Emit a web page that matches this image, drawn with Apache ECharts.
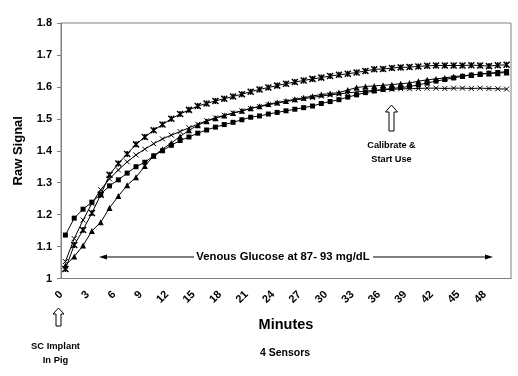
<!DOCTYPE html>
<html>
<head>
<meta charset="utf-8">
<script src="https://cdn.jsdelivr.net/npm/echarts@6/dist/echarts.min.js"></script>
<style>
  html, body { margin: 0; padding: 0; background: #fff; }
  #chart { width: 518px; height: 376px; }
</style>
</head>
<body>
<div id="chart"></div>
<script>
// minutes after implant, one reading per minute
const minutes = [];
for (let m = 0; m <= 50; m++) minutes.push(String(m));

const yTicks = [1, 1.1, 1.2, 1.3, 1.4, 1.5, 1.6, 1.7, 1.8];

// sensor readings (raw signal)
const sensorSquare = [
  1.136, 1.189, 1.217, 1.239, 1.264, 1.290, 1.309, 1.330, 1.350, 1.364,
  1.384, 1.400, 1.417, 1.432, 1.443, 1.455, 1.465, 1.474, 1.482, 1.489,
  1.497, 1.505, 1.509, 1.515, 1.520, 1.525, 1.530, 1.535, 1.540, 1.548,
  1.554, 1.560, 1.568, 1.575, 1.582, 1.587, 1.592, 1.595, 1.598, 1.601,
  1.606, 1.612, 1.618, 1.623, 1.628, 1.633, 1.637, 1.640, 1.643, 1.645,
  1.648
];
const sensorTriangle = [
  1.041, 1.069, 1.103, 1.149, 1.176, 1.221, 1.258, 1.292, 1.317, 1.352,
  1.384, 1.405, 1.424, 1.445, 1.464, 1.480, 1.492, 1.502, 1.510, 1.518,
  1.525, 1.533, 1.539, 1.546, 1.551, 1.556, 1.561, 1.566, 1.571, 1.576,
  1.579, 1.582, 1.590, 1.598, 1.601, 1.603, 1.605, 1.607, 1.610, 1.612,
  1.618, 1.622, 1.625, 1.628, 1.632, 1.635, 1.637, 1.640, 1.642, 1.643,
  1.645
];
const sensorStar = [
  1.030, 1.105, 1.152, 1.205, 1.262, 1.325, 1.360, 1.390, 1.420, 1.443,
  1.464, 1.482, 1.500, 1.515, 1.528, 1.540, 1.548, 1.556, 1.563, 1.570,
  1.577, 1.585, 1.592, 1.598, 1.604, 1.610, 1.615, 1.620, 1.625, 1.629,
  1.634, 1.638, 1.641, 1.645, 1.650, 1.655, 1.656, 1.659, 1.661, 1.662,
  1.664, 1.666, 1.667, 1.667, 1.667, 1.667, 1.668, 1.667, 1.665, 1.668,
  1.669
];
const sensorCross = [
  1.053, 1.125, 1.183, 1.235, 1.278, 1.312, 1.340, 1.365, 1.387, 1.405,
  1.422, 1.437, 1.449, 1.460, 1.472, 1.483, 1.494, 1.503, 1.511, 1.518,
  1.525, 1.532, 1.538, 1.544, 1.549, 1.554, 1.559, 1.563, 1.567, 1.571,
  1.575, 1.578, 1.581, 1.584, 1.587, 1.589, 1.591, 1.592, 1.594, 1.594,
  1.595, 1.596, 1.596, 1.595, 1.596, 1.596, 1.595, 1.596, 1.595, 1.594,
  1.593
];

const FONT = 'Liberation Sans, Arial, sans-serif';
const crossPath = 'path://M0,0L10,10M10,0L0,10';
const starPath = 'path://M0,0L10,10M10,0L0,10M5,0L5,10';

function sensor(name, data, symbol, size, bw) {
  return {
    name: name,
    type: 'line',
    data: data,
    symbol: symbol,
    symbolSize: size,
    showSymbol: true,
    showAllSymbol: true,
    lineStyle: { color: '#000', width: 1 },
    itemStyle: { color: '#000', borderColor: '#000', borderWidth: bw }
  };
}

const chart = echarts.init(document.getElementById('chart'));
chart.setOption({
  animation: false,
  backgroundColor: '#fff',
  textStyle: { fontFamily: FONT },
  grid: {
    left: 61, top: 23, right: 7, bottom: 97.5,
    show: true, borderColor: '#808080', borderWidth: 1
  },
  xAxis: {
    type: 'category',
    data: minutes,
    boundaryGap: true,
    name: 'Minutes',
    nameLocation: 'middle',
    nameGap: 39,
    nameTextStyle: { fontFamily: FONT, fontWeight: 'bold', fontSize: 14.5, color: '#000' },
    axisLine: { lineStyle: { color: '#808080', width: 1 } },
    axisTick: { interval: 0, length: 4, lineStyle: { color: '#808080' } },
    axisLabel: {
      interval: 2, rotate: 45, margin: 10, padding: [0, 6, 0, 0],
      fontFamily: FONT, fontWeight: 'bold', fontSize: 11, color: '#000'
    },
    splitLine: { show: false }
  },
  yAxis: {
    type: 'value',
    min: yTicks[0],
    max: yTicks[yTicks.length - 1],
    interval: 0.1,
    name: 'Raw Signal',
    nameLocation: 'middle',
    nameGap: 36,
    nameTextStyle: { fontFamily: FONT, fontWeight: 'bold', fontSize: 13, color: '#000' },
    axisLine: { show: true, lineStyle: { color: '#808080', width: 1 } },
    axisTick: { show: true, length: 4, lineStyle: { color: '#808080' } },
    axisLabel: {
      margin: 9, fontFamily: FONT, fontWeight: 'bold', fontSize: 11, color: '#000',
      formatter: function (v) { return String(Math.round(v * 10) / 10); }
    },
    splitLine: { show: false }
  },
  series: [
    sensor('Sensor 1', sensorSquare, 'rect', 5, 0),
    sensor('Sensor 2', sensorTriangle, 'triangle', 6, 0),
    sensor('Sensor 3', sensorStar, starPath, 6, 1.5),
    sensor('Sensor 4', sensorCross, crossPath, 5, 1)
  ],
  graphic: [
    // venous glucose double arrow
    { type: 'line', shape: { x1: 105, y1: 257, x2: 194, y2: 257 }, style: { stroke: '#000', lineWidth: 1.2 } },
    { type: 'polygon', shape: { points: [[99, 257], [107, 254.5], [107, 259.5]] }, style: { fill: '#000' } },
    { type: 'line', shape: { x1: 373, y1: 257, x2: 486, y2: 257 }, style: { stroke: '#000', lineWidth: 1.2 } },
    { type: 'polygon', shape: { points: [[493, 257], [485, 254.5], [485, 259.5]] }, style: { fill: '#000' } },
    {
      type: 'text',
      style: {
        text: 'Venous Glucose at 87- 93 mg/dL', x: 283, y: 257,
        align: 'center', verticalAlign: 'middle',
        font: 'bold 11.3px ' + FONT, fill: '#000'
      }
    },
    // calibrate arrow
    {
      type: 'polygon',
      shape: { points: [[391.5, 105], [397.5, 112], [394, 112], [394, 131], [389, 131], [389, 112], [385.5, 112]] },
      style: { fill: '#fff', stroke: '#000', lineWidth: 1 }
    },
    {
      type: 'text',
      style: {
        text: 'Calibrate &\nStart Use', x: 391.5, y: 152,
        align: 'center', verticalAlign: 'middle', lineHeight: 14,
        font: 'bold 9.2px ' + FONT, fill: '#000'
      }
    },
    // implant arrow
    {
      type: 'polygon',
      shape: { points: [[58.5, 308], [64, 314], [61, 314], [61, 326], [56, 326], [56, 314], [53, 314]] },
      style: { fill: '#fff', stroke: '#000', lineWidth: 1 }
    },
    {
      type: 'text',
      style: {
        text: 'SC Implant\nIn Pig', x: 55.5, y: 353,
        align: 'center', verticalAlign: 'middle', lineHeight: 14,
        font: 'bold 9.4px ' + FONT, fill: '#000'
      }
    },
    {
      type: 'text',
      style: {
        text: '4 Sensors', x: 285, y: 353.5,
        align: 'center', verticalAlign: 'middle',
        font: 'bold 10.5px ' + FONT, fill: '#000'
      }
    }
  ]
});
</script>
</body>
</html>
